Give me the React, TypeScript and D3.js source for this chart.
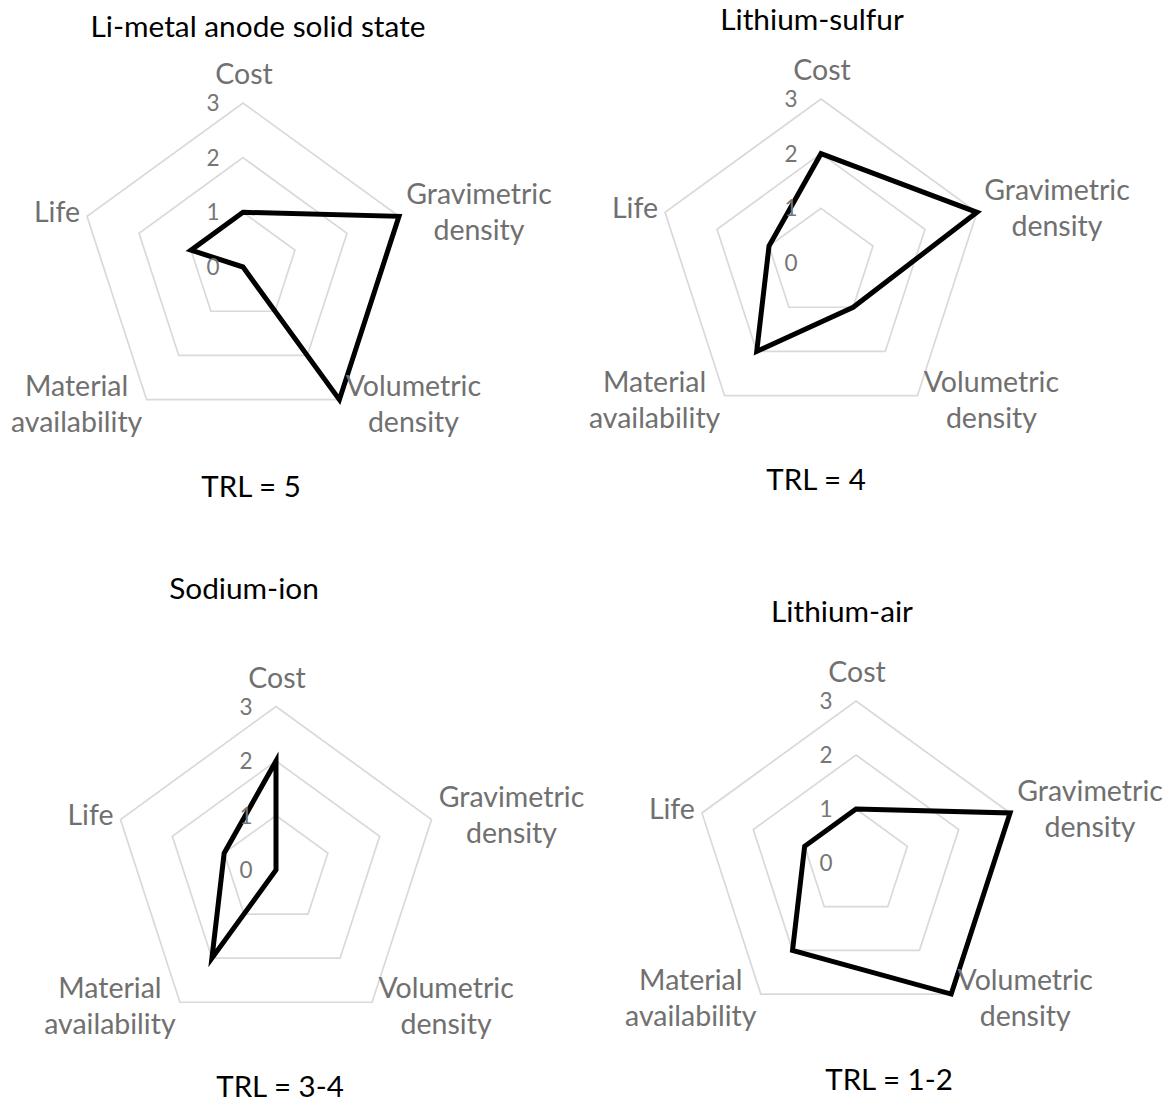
import React, { useEffect } from 'react';
import * as d3 from 'd3';

// axis categories, as they are printed (two lines where the chart wraps them)
const axisNames = ['Cost', 'Gravimetric density', 'Volumetric density', 'Material availability', 'Life'];
const axisLines = [['Cost'], ['Gravimetric', 'density'], ['Volumetric', 'density'], ['Material', 'availability'], ['Life']];

const titles = ['Li-metal anode solid state', 'Lithium-sulfur', 'Sodium-ion', 'Lithium-air'];
const trlLabels = ['TRL = 5', 'TRL = 4', 'TRL = 3-4', 'TRL = 1-2'];

// scores per axis, same order as axisNames
const liMetal = [1, 3, 3, 0, 1];
const liSulfur = [2, 3, 1, 2, 1];
const sodiumIon = [2, 0, 0, 2, 1];
const liAir = [1, 3, 3, 2, 1];

const gridLevels = [1, 2, 3];
const tickValues = [0, 1, 2, 3];

// where each little chart sits on the page
const panels = [
  { cx: 243, cy: 267, R: 164, titleX: 258, titleY: 37, trlX: 251, trlY: 497 },
  { cx: 821, cy: 263, R: 164, titleX: 812, titleY: 30, trlX: 816, trlY: 490 },
  { cx: 276, cy: 870, R: 163.5, titleX: 244, titleY: 599, trlX: 280, trlY: 1097 },
  { cx: 856, cy: 863, R: 162, titleX: 842, titleY: 622, trlX: 889, trlY: 1090 },
];

const series = [liMetal, liSulfur, sodiumIon, liAir];

const FONT = 'Lato, "Open Sans", sans-serif';
const GRAY = '#707070';

function Radar({ values, title, trl, p }) {
  const r = d3.scaleLinear().domain([0, 3]).range([0, p.R]);
  const ang = d3.scaleLinear().domain([0, axisNames.length]).range([0, 2 * Math.PI]);

  const ring = d3.lineRadial()
    .angle((d, i) => ang(i))
    .radius(d => r(d))
    .curve(d3.curveLinearClosed);

  const vertex = (i, v) => {
    const a = ang(i);
    return [p.cx + Math.sin(a) * r(v), p.cy - Math.cos(a) * r(v)];
  };

  return (
    <g>
      <text x={p.titleX} y={p.titleY} textAnchor="middle" fontSize={29.8} fill="#000">{title}</text>

      <g transform={`translate(${p.cx},${p.cy})`}>
        {gridLevels.map(l => (
          <path key={l} d={ring(axisNames.map(() => l))} fill="none" stroke="#d9d9d9" strokeWidth={1.7} />
        ))}
        <path d={ring(values)} fill="none" stroke="#000" strokeWidth={5} strokeLinejoin="miter" />
      </g>

      {tickValues.map(t => (
        <text key={t} x={p.cx - 30} y={p.cy - r(t)} dy="0.36em" textAnchor="middle" fontSize={22.5} fill="#767676">{t}</text>
      ))}

      {axisLines.map((lines, i) => {
        const [vx, vy] = vertex(i, 3);
        let x = vx, y = vy, anchor = 'middle';
        if (i === 0) { x = vx + 1; y = vy - 19; }
        else if (i === 1) { x = vx + 80; y = vy - 12; }
        else if (i === 2) { x = vx + 74; y = vy - 4; }
        else if (i === 3) { x = vx - 70; y = vy - 4; }
        else { x = vx - 7; y = vy + 6; anchor = 'end'; }
        return (
          <text key={i} x={x} y={y} textAnchor={anchor} fontSize={28.5} fill={GRAY}>
            {lines.map((s, j) => (
              <tspan key={j} x={x} dy={j === 0 ? 0 : 36}>{s}</tspan>
            ))}
          </text>
        );
      })}

      <text x={p.trlX} y={p.trlY} textAnchor="middle" fontSize={29.5} fill="#000">{trl}</text>
    </g>
  );
}

export default function App() {
  useEffect(() => {
    document.body.style.margin = '0';
  }, []);

  return (
    <svg width={1175} height={1104} style={{ display: 'block', background: '#fff' }} fontFamily={FONT}>
      {series.map((vals, k) => (
        <Radar key={k} values={vals} title={titles[k]} trl={trlLabels[k]} p={panels[k]} />
      ))}
    </svg>
  );
}
